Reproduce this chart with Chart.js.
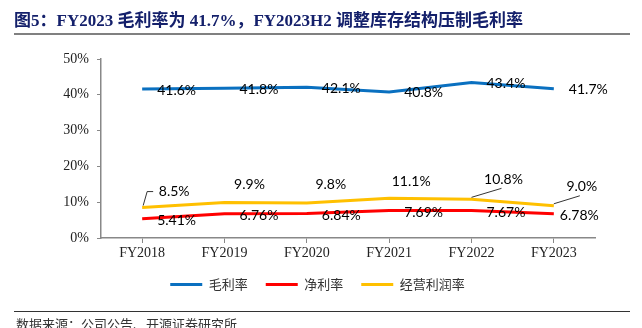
<!DOCTYPE html>
<html>
<head>
<meta charset="utf-8">
<script src="https://cdn.jsdelivr.net/npm/chart.js@4"></script>
<style>
    html, body { margin: 0; padding: 0; background: #fff; }
    #wrap { position: relative; width: 642px; height: 328px; overflow: hidden; }
    #chart { position: absolute; left: 0; top: 0; }
    .title {
        position: absolute; left: 14px; top: 6px;
        font: bold 17px "Liberation Serif", "Noto Sans CJK SC", serif;
        color: #14206b; white-space: nowrap;
    }
    .rule1 { position: absolute; left: 14px; top: 33px; width: 616px; height: 2px; background: #808080; }
    .rule2 { position: absolute; left: 14px; top: 311px; width: 616px; height: 1px; background: #333; }
    .source {
        position: absolute; left: 16px; top: 314px;
        font: 13px "Noto Sans CJK SC", sans-serif; color: #333; white-space: nowrap;
    }
</style>
</head>
<body>
<div id="wrap">
    <canvas id="chart" width="642" height="328"></canvas>
    <div class="title">图5：FY2023 毛利率为 41.7%，FY2023H2 调整库存结构压制毛利率</div>
    <div class="rule1"></div>
    <div class="rule2"></div>
    <div class="source">数据来源：公司公告、开源证券研究所</div>
</div>
<script>
const years = ["FY2018", "FY2019", "FY2020", "FY2021", "FY2022", "FY2023"];
const grossMargin = [41.6, 41.8, 42.1, 40.8, 43.4, 41.7];
const netMargin = [5.41, 6.76, 6.84, 7.69, 7.67, 6.78];
const opMargin = [8.5, 9.9, 9.8, 11.1, 10.8, 9.0];
const yTicks = [0, 10, 20, 30, 40, 50];

// value labels, drawn next to each point
const valueLabels = {
    id: "valueLabels",
    afterDatasetsDraw(c) {
        const ctx = c.ctx;
        ctx.save();
        ctx.font = "14px Lato, sans-serif";
        ctx.fillStyle = "#000";
        ctx.textBaseline = "middle";
        c.data.datasets.forEach((ds, i) => {
            const meta = c.getDatasetMeta(i);
            const lab = ds.labelStyle;
            meta.data.forEach((pt, j) => {
                const dx = (lab.dx[j] !== undefined) ? lab.dx[j] : lab.dx;
                const dy = (lab.dy[j] !== undefined) ? lab.dy[j] : lab.dy;
                const txt = ds.data[j].toFixed(lab.dec) + "%";
                const tx = pt.x + dx, ty = pt.y + dy;
                ctx.textAlign = lab.align;
                ctx.fillText(txt, tx, ty);
                if (lab.leader && lab.leader.includes(j)) {
                    ctx.strokeStyle = "#000";
                    ctx.lineWidth = 0.8;
                    ctx.beginPath();
                    if (j === 0) {
                        ctx.moveTo(pt.x + 1, pt.y - 2);
                        ctx.lineTo(pt.x + 5, ty);
                        ctx.lineTo(pt.x + 11, ty);
                    } else {
                        ctx.moveTo(pt.x, pt.y - 2);
                        ctx.lineTo(tx - 2, ty + 9);
                    }
                    ctx.stroke();
                }
            });
        });
        ctx.restore();
    }
};

const ctx = document.getElementById("chart").getContext("2d");
new Chart(ctx, {
    type: "line",
    data: {
        labels: years,
        datasets: [
            {
                label: "毛利率",
                data: grossMargin,
                borderColor: "#0a70c0",
                backgroundColor: "#0a70c0",
                borderWidth: 3,
                pointRadius: 0,
                labelStyle: { dx: 15, dy: 1, align: "left", dec: 1 }
            },
            {
                label: "净利率",
                data: netMargin,
                borderColor: "#ff0000",
                backgroundColor: "#ff0000",
                borderWidth: 3,
                pointRadius: 0,
                labelStyle: { dx: [15, 15, 15, 15, 15, 6], dy: 2, align: "left", dec: 2 }
            },
            {
                label: "经营利润率",
                data: opMargin,
                borderColor: "#ffc000",
                backgroundColor: "#ffc000",
                borderWidth: 3,
                pointRadius: 0,
                labelStyle: { dx: [32, 25, 24, 22, 32, 28], dy: [-16, -18, -18, -17, -20, -19], align: "center", dec: 1, leader: [0, 4, 5] }
            }
        ]
    },
    options: {
        responsive: false,
        animation: false,
        layout: { padding: { left: 40, right: 47, top: 59, bottom: 27 } },
        plugins: {
            legend: {
                position: "bottom",
                labels: {
                    usePointStyle: true,
                    pointStyle: "line",
                    pointStyleWidth: 32,
                    color: "#333",
                    font: { family: "'Noto Sans CJK SC'", size: 13 },
                    padding: 18
                }
            },
            tooltip: { enabled: false }
        },
        scales: {
            x: {
                offset: true,
                grid: { drawOnChartArea: false, tickLength: 5, color: "#888", lineWidth: 1 },
                border: { color: "#888", width: 1.5 },
                ticks: { color: "#222", font: { family: "'Liberation Serif'", size: 14 }, padding: 2 },
                afterFit: s => { s.height = 22; }
            },
            y: {
                min: 0,
                max: 50,
                afterBuildTicks: s => { s.ticks = yTicks.map(v => ({ value: v })); },
                grid: { drawOnChartArea: false, tickLength: 4, color: "#888" },
                border: { color: "#888", width: 1.5 },
                ticks: { color: "#222", font: { family: "'Liberation Serif'", size: 14 }, padding: 8, callback: v => v + "%" },
                afterFit: s => { s.width = 61; }
            }
        }
    },
    plugins: [valueLabels]
});
</script>
</body>
</html>
